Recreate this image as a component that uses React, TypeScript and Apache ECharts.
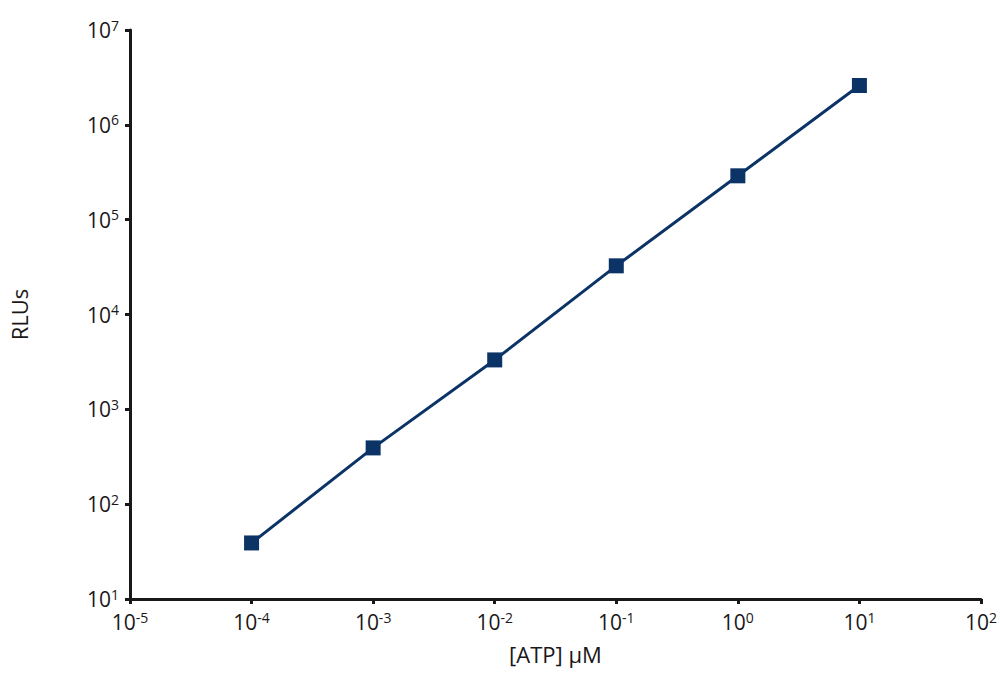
import React, { useEffect, useRef } from "react";
import * as echarts from "echarts";

const atpConcentrations = [1e-4, 1e-3, 1e-2, 1e-1, 1, 10];
const rluValues = [39, 392, 3320, 32600, 290000, 2600000];

const xMin = 1e-5;
const xMax = 100;
const yMin = 10;
const yMax = 1e7;

const seriesColor = "#0b3366";
const inkColor = "#1a1718";
const fontFamily = "Open Sans";

function powerLabel(v: number): string {
  const e = Math.round(Math.log10(v));
  return "{b|10}{s|" + e + "}";
}

const richStyles = {
  b: { fontSize: 21, color: inkColor, fontFamily, lineHeight: 24 },
  s: { fontSize: 14, color: inkColor, fontFamily, lineHeight: 14, verticalAlign: "top" as const },
};

export default function App() {
  const ref = useRef<HTMLDivElement>(null);
  useEffect(() => {
    if (!ref.current) return;
    const chart = echarts.init(ref.current, undefined, { renderer: "svg" });
    chart.setOption({
      animation: false,
      backgroundColor: "#ffffff",
      textStyle: { fontFamily },
      grid: { left: 130, right: 12, top: 30, bottom: 89, containLabel: false },
      xAxis: {
        type: "log",
        logBase: 10,
        min: xMin,
        max: xMax,
        splitNumber: 7,
        name: "[ATP] μM",
        nameLocation: "middle",
        nameGap: 44,
        nameTextStyle: { fontSize: 22, color: inkColor, fontFamily },
        axisLine: { show: true, lineStyle: { color: inkColor, width: 3 } },
        axisTick: { show: true, length: 5, lineStyle: { color: inkColor, width: 3 } },
        minorTick: { show: false },
        splitLine: { show: false },
        axisLabel: { margin: 11, color: inkColor, formatter: powerLabel, rich: richStyles },
      },
      yAxis: {
        type: "log",
        logBase: 10,
        min: yMin,
        max: yMax,
        splitNumber: 6,
        name: "RLUs",
        nameLocation: "middle",
        nameGap: 100,
        nameRotate: 90,
        nameTextStyle: { fontSize: 22, color: inkColor, fontFamily },
        axisLine: { show: true, lineStyle: { color: inkColor, width: 3 } },
        axisTick: { show: true, length: 5, lineStyle: { color: inkColor, width: 3 } },
        splitLine: { show: false },
        axisLabel: { margin: 11, color: inkColor, formatter: powerLabel, rich: richStyles },
      },
      series: [
        {
          type: "line",
          data: atpConcentrations.map((x, i) => [x, rluValues[i]]),
          symbol: "rect",
          symbolSize: 15,
          showSymbol: true,
          lineStyle: { color: seriesColor, width: 3 },
          itemStyle: { color: seriesColor },
          z: 3,
        },
      ],
    });
    return () => chart.dispose();
  }, []);
  return <div ref={ref} style={{ width: 1000, height: 688, position: "absolute", left: 0, top: 0 }} />;
}
